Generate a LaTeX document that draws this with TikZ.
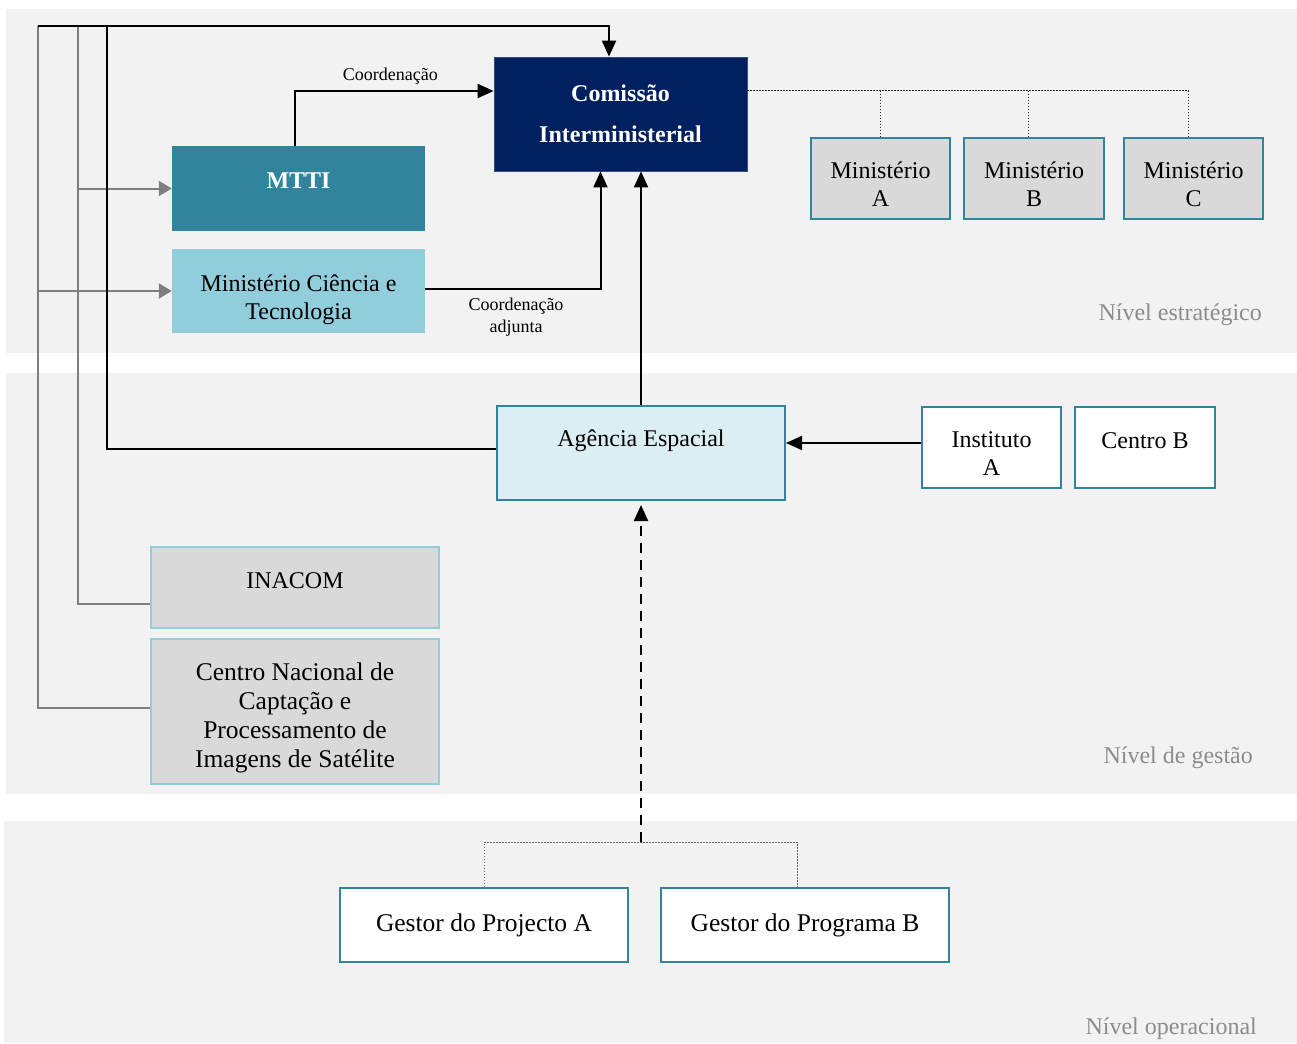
\documentclass[tikz,border=0pt]{standalone}
\usepackage{fontspec}
\setmainfont{Liberation Serif}
\usetikzlibrary{arrows.meta,positioning}
\definecolor{band}{HTML}{F2F2F2}
\definecolor{navy}{HTML}{002060}
\definecolor{teal}{HTML}{31849B}
\definecolor{lblue}{HTML}{92CDDC}
\definecolor{pale}{HTML}{DAEEF3}
\definecolor{grayfill}{HTML}{D9D9D9}
\definecolor{lgray}{HTML}{7F7F7F}
\definecolor{lvl}{HTML}{8C8C8C}
\tikzset{
  body/.style={font=\fontsize{24}{28}\selectfont, align=center},
  big/.style={font=\fontsize{25.5}{29}\selectfont, align=center},
  small/.style={font=\fontsize{18}{22}\selectfont, align=center},
  box/.style={rectangle, inner sep=0pt, body},
  blk/.style={draw=black, line width=2pt},
  gry/.style={draw=lgray, line width=2pt},
  tip/.style={-{Triangle[length=16pt,width=14pt]}},
  gtip/.style={-{Triangle[length=13pt,width=15pt]}},
  dotln/.style={draw=black!85, line width=1pt, dash pattern=on 1.5pt off 1.5pt},
  dotgr/.style={draw=black!60, line width=1pt, dash pattern=on 1.5pt off 1.5pt},
  dsh/.style={draw=black, line width=2.2pt, dash pattern=on 10pt off 7pt},
  lvltext/.style={font=\fontsize{24}{28}\selectfont, text=lvl, anchor=base east, inner sep=0pt}
}
\begin{document}
\begin{tikzpicture}[x=1pt,y=-1pt]
\fill[white] (0,0) rectangle (1297,1043);
\useasboundingbox (0,0) rectangle (1297,1043);
% bands
\fill[band] (6,9) rectangle (1297,353);
\fill[band] (6,373) rectangle (1297,794);
\fill[band] (4,821) rectangle (1297,1043);
\node[lvltext] (lv1) at (1262,320) {Nível estratégico};
\node[lvltext] (lv2) at (1253,763) {Nível de gestão};
\node[lvltext] (lv3) at (1257,1034) {Nível operacional};

% nodes
\node[box, fill=navy, draw=navy!80!white, line width=0.8pt, minimum width=253, minimum height=114,
      text=white, font=\bfseries\fontsize{24}{41}\selectfont] (com) at (620.5,114) {Comissão\\Interministerial};
\node[box, fill=teal, minimum width=253, minimum height=85,
      label={[font=\bfseries\fontsize{24}{28}\selectfont, text=white, yshift=7.5pt]center:MTTI}] (mtti) at (298.5,188.5) {};
\node[box, fill=lblue, minimum width=253, minimum height=84,
      label={[body, yshift=-8.5pt]center:Ministério Ciência e\\Tecnologia}] (mct) at (298.5,291) {};
\node[box, fill=grayfill, draw=teal, line width=2pt, minimum width=139, minimum height=81,
      label={[body, yshift=-6pt]center:Ministério\\A}] (mA) at (880.5,178.5) {};
\node[box, fill=grayfill, draw=teal, line width=2pt, minimum width=140, minimum height=81,
      label={[body, yshift=-6pt]center:Ministério\\B}] (mB) at (1034,178.5) {};
\node[box, fill=grayfill, draw=teal, line width=2pt, minimum width=139, minimum height=81,
      label={[body, yshift=-6pt]center:Ministério\\C}] (mC) at (1193.5,178.5) {};
\node[box, fill=pale, draw=teal, line width=2pt, minimum width=288, minimum height=94,
      label={[body, yshift=12pt]center:Agência Espacial}] (ag) at (641,453) {};
\node[box, fill=white, draw=teal, line width=2pt, minimum width=139, minimum height=81,
      label={[body, yshift=-6.5pt]center:Instituto\\A}] (inst) at (991.5,447.5) {};
\node[box, fill=white, draw=teal, line width=2pt, minimum width=140, minimum height=81,
      label={[body, yshift=6.5pt]center:Centro B}] (cb) at (1145,447.5) {};
\node[box, fill=grayfill, draw=lblue, line width=2pt, minimum width=288, minimum height=81,
      label={[body, yshift=7pt]center:INACOM}] (ina) at (295,587.5) {};
\node[box, fill=grayfill, draw=lblue, line width=2pt, minimum width=288, minimum height=145,
      label={[big, yshift=-6pt]center:Centro Nacional de\\Captação e\\Processamento de\\Imagens de Satélite}] (cn) at (295,711.5) {};
\node[box, big, fill=white, draw=teal, line width=2pt, minimum width=288, minimum height=74] (gA) at (484,925) {Gestor do Projecto A};
\node[box, big, fill=white, draw=teal, line width=2pt, minimum width=288, minimum height=74] (gB) at (805,925) {Gestor do Programa B};

% coordinates for free ends
\coordinate (tl) at (38,26);
\coordinate (tl2) at (78,26);
\coordinate (tl3) at (107,26);
\coordinate (d0) at ([yshift=23pt]com.east);
\coordinate (g0) at (641,842);
\coordinate (mBt) at ([xshift=-6pt]mB.north);
\coordinate (mCt) at ([xshift=-5pt]mC.north);

% left-side lines
\draw[gry] (tl) |- ([yshift=3.5pt]cn.west);
\draw[gry, gtip] (tl |- mct.west) -- (mct.west);
\draw[gry] (tl2) |- ([yshift=-16.5pt]ina.west);
\draw[gry, gtip] (tl2 |- mtti.west) -- (mtti.west);
\draw[blk] ([yshift=4pt]ag.west) -| (tl3);
\draw[blk, tip] (tl) -| ([xshift=-11.5pt]com.north);

% coordination
\draw[blk, tip] ([xshift=-3.5pt]mtti.north) |- ([yshift=23pt]com.west)
   node[small, pos=0.74, above=2pt] {Coordenação};
\draw[blk, tip] ([yshift=2pt]mct.east) -| ([xshift=-20pt]com.south);
\node[small] (cadj) at (516,317) {Coordenação\\adjunta};
\draw[blk, tip] (ag.north) -- (ag.north |- com.south);
\draw[blk, tip] ([yshift=4.5pt]inst.west) -- ([yshift=4.5pt]inst.west -| ag.east);

% ministries dotted
\draw[dotln] (d0) -| (mCt);
\draw[dotln] (d0 -| mA.north) -- (mA.north);
\draw[dotln] (d0 -| mBt) -- (mBt);

% operational
\draw[dsh, tip, shorten >=4pt] (g0) -- (ag.south);
\draw[dotgr] (gA.north) |- (g0) -| ([xshift=-8pt]gB.north);
\end{tikzpicture}
\end{document}
